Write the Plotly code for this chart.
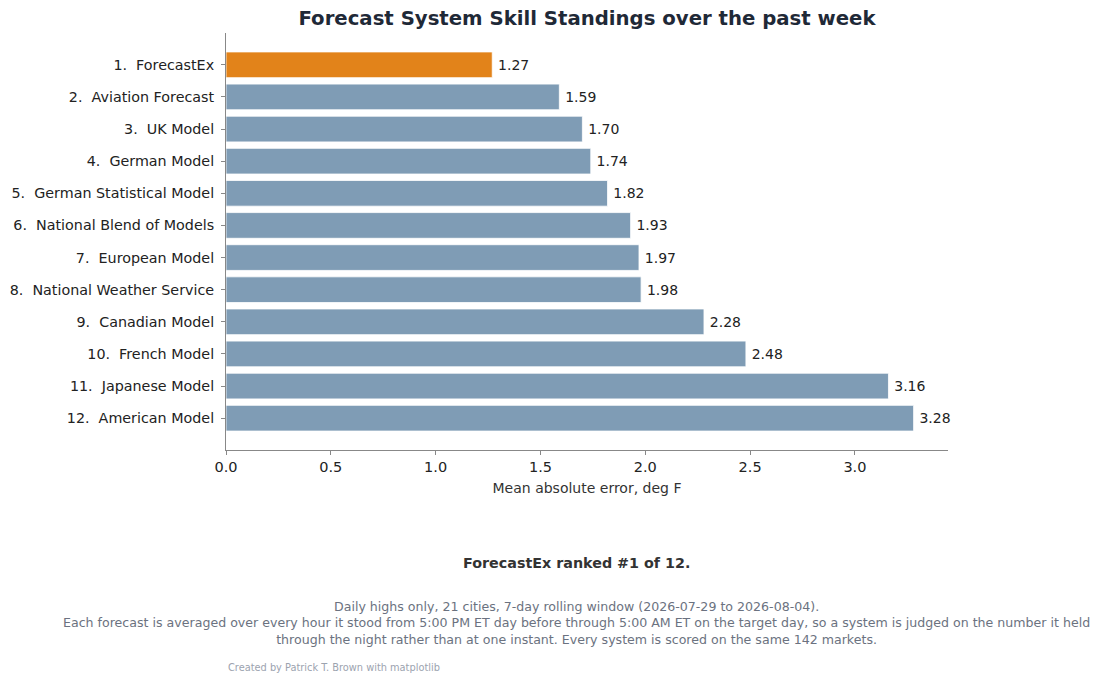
import plotly.graph_objects as go

# Data
systems = [
    "1.  ForecastEx", "2.  Aviation Forecast", "3.  UK Model", "4.  German Model",
    "5.  German Statistical Model", "6.  National Blend of Models", "7.  European Model",
    "8.  National Weather Service", "9.  Canadian Model", "10.  French Model",
    "11.  Japanese Model", "12.  American Model",
]
mae = [1.27, 1.59, 1.70, 1.74, 1.82, 1.93, 1.97, 1.98, 2.28, 2.48, 3.16, 3.28]
x_ticks = [0.0, 0.5, 1.0, 1.5, 2.0, 2.5, 3.0]

HIGHLIGHT = "#E2831A"
BASE = "#7F9CB5"
FONT = "DejaVu Sans"

colors = [HIGHLIGHT if i == 0 else BASE for i in range(len(systems))]

fig = go.Figure()
fig.add_trace(go.Bar(
    x=mae, y=systems, orientation="h",
    marker=dict(color=colors, line=dict(color="white", width=0.8)),
    text=[f"\u2009{v:.2f}" for v in mae], textposition="outside",
    textfont=dict(family=FONT, size=14, color="#222222"),
    cliponaxis=False, hoverinfo="x+y",
))

# Axes
fig.update_xaxes(
    range=[0, max(mae) * 1.05], tickvals=x_ticks, ticktext=[f"{t:.1f}" for t in x_ticks],
    showgrid=False, zeroline=False, showline=True, linecolor="#888888", linewidth=1,
    ticks="outside", ticklen=4, tickcolor="#888888", automargin=False,
    tickfont=dict(family=FONT, size=14.5, color="#222222"),
    title=dict(text="Mean absolute error, deg F", font=dict(family=FONT, size=14, color="#333333"), standoff=8),
)
fig.update_yaxes(
    range=[len(systems) - 0.01, -0.99], showgrid=False, zeroline=False,
    showline=True, linecolor="#888888", linewidth=1, automargin=False,
    ticks="outside", ticklen=4, tickcolor="#888888", ticklabelstandoff=4,
    tickfont=dict(family=FONT, size=14.3, color="#222222"),
)

# Layout (page is drawn with an 8px body offset)
fig.update_layout(
    width=1100, height=684,
    margin=dict(l=218, r=160, t=25, b=242),
    plot_bgcolor="white", paper_bgcolor="white",
    bargap=0.2, showlegend=False,
    title=dict(text="<b>Forecast System Skill Standings over the past week</b>",
               x=0.5, xref="paper", y=1 - 10 / 684, yanchor="middle",
               font=dict(family=FONT, size=19.7, color="#1F2937")),
)

# Notes under the chart, positioned from screen pixels
plot_top, plot_bottom, plot_left, plot_right = 33, 450, 226, 948

def px_x(xpix):
    return (xpix - plot_left) / (plot_right - plot_left)

def px_y(ypix):
    return (plot_bottom - ypix) / (plot_bottom - plot_top)

fig.add_annotation(
    text="<b>ForecastEx ranked #1 of 12.</b>", xref="paper", yref="paper",
    x=px_x(576), y=px_y(563), xanchor="center", yanchor="middle",
    showarrow=False, font=dict(family=FONT, size=14.3, color="#333333"),
)
fig.add_annotation(
    text=("Daily highs only, 21 cities, 7-day rolling window (2026-07-29 to 2026-08-04).<br>"
          "Each forecast is averaged over every hour it stood from 5:00 PM ET day before through 5:00 AM ET on the target day, so a system is judged on the number it held<br>"
          "through the night rather than at one instant. Every system is scored on the same 142 markets."),
    xref="paper", yref="paper", x=px_x(576), y=px_y(622.5),
    xanchor="center", yanchor="middle", align="center", showarrow=False,
    font=dict(family=FONT, size=12.6, color="#6B7280"),
)
fig.add_annotation(
    text="Created by Patrick T. Brown with matplotlib", xref="paper", yref="paper",
    x=0, y=px_y(667), xanchor="left", yanchor="middle", showarrow=False,
    font=dict(family=FONT, size=9.8, color="#9CA3AF"),
)

fig.write_html("out.html")
